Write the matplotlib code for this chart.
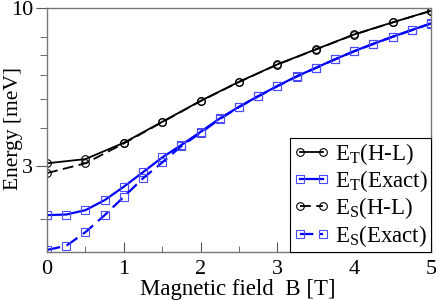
import matplotlib
matplotlib.use("Agg")
import matplotlib.pyplot as plt
from matplotlib.ticker import FixedLocator, FixedFormatter, NullFormatter, MultipleLocator

plt.rcParams['font.family'] = ['Liberation Serif', 'DejaVu Serif']
plt.rcParams['mathtext.fontset'] = 'custom'
plt.rcParams['mathtext.rm'] = 'Liberation Serif'
plt.rcParams['mathtext.it'] = 'Liberation Serif:italic'

# Data
B_hl = [0.0, 0.5, 1.0, 1.5, 2.0, 2.5, 3.0, 3.5, 4.0, 4.5, 5.0]
ET_hl = [3.06, 3.16, 3.58, 4.20, 4.93, 5.70, 6.51, 7.30, 8.18, 8.97, 9.80]
ES_hl = [2.84, 3.06, 3.56, 4.19, 4.92, 5.69, 6.50, 7.29, 8.17, 8.96, 9.79]

B_ex = [0.0, 0.25, 0.5, 0.75, 1.0, 1.25, 1.5, 1.75, 2.0, 2.25, 2.5, 2.75,
        3.0, 3.25, 3.5, 3.75, 4.0, 4.25, 4.5, 4.75, 5.0]
ET_ex = [2.06, 2.07, 2.14, 2.31, 2.56, 2.86, 3.20, 3.52, 3.89, 4.31, 4.71, 5.11,
         5.52, 5.94, 6.34, 6.77, 7.20, 7.62, 8.04, 8.46, 8.90]
ES_ex = [1.58, 1.63, 1.81, 2.06, 2.37, 2.73, 3.08, 3.49, 3.86, 4.29, 4.70, 5.10,
         5.51, 5.93, 6.33, 6.76, 7.19, 7.61, 8.03, 8.45, 8.89]

y_ticks = [3, 10]
y_ticklabels = ['3', '10']
labels = [r'E$_\mathrm{T}$(H-L)', r'E$_\mathrm{T}$(Exact)',
          r'E$_\mathrm{S}$(H-L)', r'E$_\mathrm{S}$(Exact)']

fig = plt.figure(figsize=(4.36, 3.00), dpi=100)
ax = fig.add_axes([0.108, 0.16, 0.8805, 0.813])

blue = '#0000ff'
sqc = '#4a4aff'
mk = dict(mfc='none', markersize=5.5, markeredgewidth=0.8)
ax.plot(B_hl, ET_hl, '-', color='black', lw=1.3, marker='o', mec='black', label=labels[0], **mk)
ax.plot(B_ex, ET_ex, '-', color=blue, lw=1.6, marker='s', mec=sqc, label=labels[1], **mk)
ax.plot(B_hl, ES_hl, '--', color='black', lw=1.3, marker='o', mec='black', label=labels[2],
        dashes=(6, 3), **mk)
ax.plot(B_ex, ES_ex, '--', color=blue, lw=1.6, marker='s', mec=sqc, label=labels[3],
        dashes=(6, 3), **mk)

ax.set_yscale('log')
ax.set_xlim(0, 5)
ax.set_ylim(1.555, 10)
ax.yaxis.set_major_locator(FixedLocator(y_ticks))
ax.yaxis.set_major_formatter(FixedFormatter(y_ticklabels))
ax.yaxis.set_minor_locator(FixedLocator([2, 4, 5, 6, 7, 8]))
ax.yaxis.set_minor_formatter(NullFormatter())
ax.xaxis.set_major_locator(MultipleLocator(1))
ax.xaxis.set_minor_locator(MultipleLocator(0.5))

for s in ax.spines.values():
    s.set_color('#777777')
    s.set_linewidth(1.0)

ax.tick_params(axis='x', which='both', direction='in', top=False, labelsize=16, pad=6, color='#555555')
ax.tick_params(axis='x', which='major', length=7)
ax.tick_params(axis='x', which='minor', length=4)
ax.tick_params(axis='y', which='both', direction='out', right=False, labelsize=16, pad=2, color='#555555')
ax.tick_params(axis='y', which='major', length=8)
ax.tick_params(axis='y', which='minor', length=5)

ax.set_xlabel('Magnetic field  B [T]', fontsize=16.5)
ax.set_ylabel('Energy [meV]', fontsize=15.5)
ax.xaxis.set_label_coords(0.497, -0.112)
ax.yaxis.set_label_coords(-0.064, 0.508)

leg = ax.legend(loc='lower right', fontsize=16.5, numpoints=2, handlelength=1.6,
                handletextpad=0.2, borderaxespad=0.0, borderpad=0.15, labelspacing=0.05,
                handleheight=0.7, fancybox=False, framealpha=1, edgecolor='black')
leg.get_frame().set_linewidth(0.8)

fig.savefig('out.png', dpi=100)
